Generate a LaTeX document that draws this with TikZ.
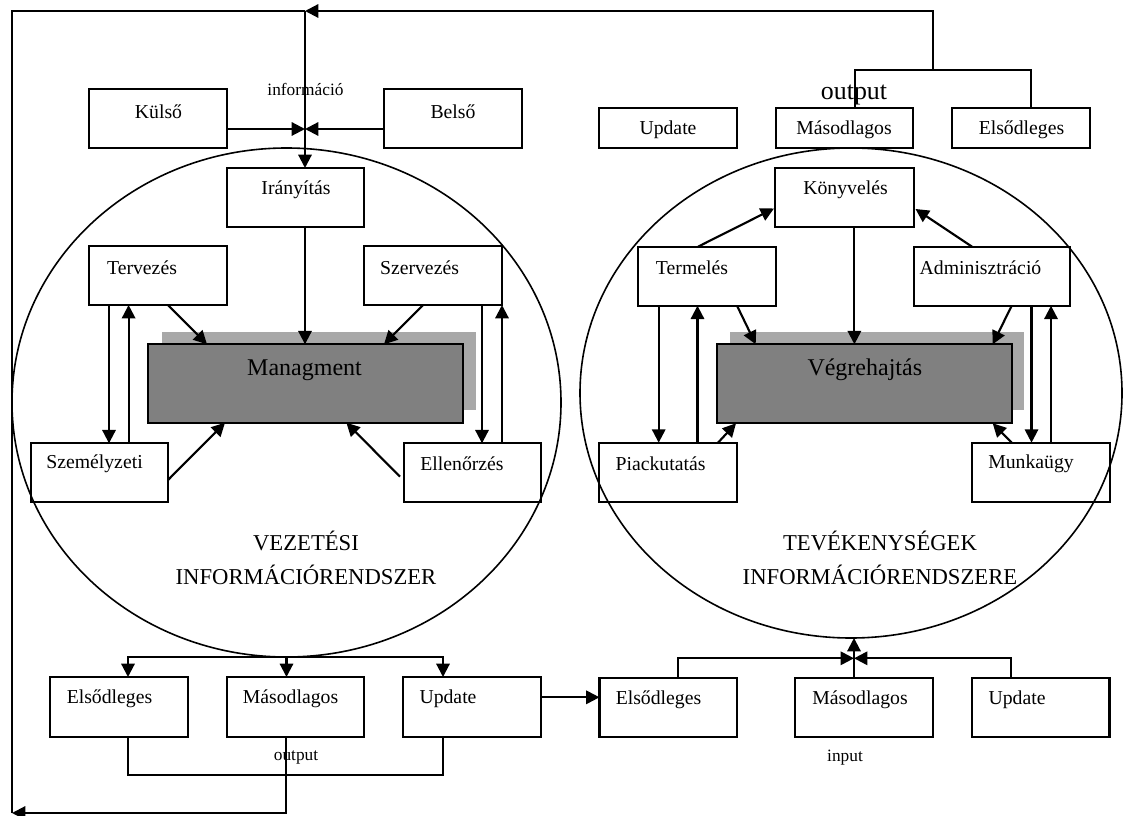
\documentclass[tikz,border=0pt]{standalone}
\usepackage{fontspec}
\setmainfont{Liberation Serif}
\usetikzlibrary{arrows.meta,fit,calc,shapes.geometric}
\definecolor{maingray}{RGB}{128,128,128}
\definecolor{shadgray}{RGB}{168,168,168}
\begin{document}
\begin{tikzpicture}[x=0.75pt,y=-0.75pt,
  bx/.style={draw, line width=1.6pt, inner sep=0pt, outer sep=0pt},
  mainbx/.style={draw, line width=1.6pt, inner sep=0pt, outer sep=0pt, fill=maingray},
  shad/.style={fill=shadgray, inner sep=0pt, outer sep=0pt},
  ell/.style={draw, ellipse, line width=1.2pt, inner sep=0pt, outer sep=0pt},
  txt/.style={font=\fontsize{14.8}{17}\selectfont, inner sep=0pt},
  bigtxt/.style={font=\fontsize{18}{21}\selectfont, inner sep=0pt},
  titletxt/.style={font=\fontsize{17}{25}\selectfont, inner sep=0pt, align=center},
  smalltxt/.style={font=\fontsize{13}{15}\selectfont, inner sep=0pt},
  ln/.style={line width=1.6pt},
  arr/.style={line width=1.6pt, -{Triangle[length=10pt,width=10pt]}}]
\useasboundingbox (0,0) rectangle (1123,816);

% ellipses
\node[ell, minimum width=411.75pt, minimum height=381.75pt] (lell) at (286.5,402.5) {};
\node[ell, minimum width=406.5pt, minimum height=367.5pt] (rell) at (851,393) {};

% ---------- left system ----------
\node[bx, fit={(89,89)(227,148)}] (kulso) {};
\node[txt] (kulsoT) at (158.5,111.6) {Külső};
\node[bx, fit={(384,89)(522,148)}] (belso) {};
\node[txt] (belsoT) at (453,112) {Belső};
\node[smalltxt] (infoT) at (305.5,89) {információ};
\node[bx, fit={(227,168)(364,227)}] (iran) {};
\node[txt] (iranT) at (296,189.3) {Irányítás};
\node[bx, fit={(88.6,246)(226.8,305)}] (terv) {};
\node[txt] (tervT) at (142,268) {Tervezés};
\node[bx, fit={(363.6,246)(501.8,305)}] (szerv) {};
\node[txt] (szervT) at (419.5,268) {Szervezés};
\node[shad, fit={(162,331.7)(476,410)}] (mgmtS) {};
\node[mainbx, fit={(148,344.3)(463,422.7)}] (mgmt) {};
\node[bigtxt] (mgmtT) at (304.5,370) {Managment};
\node[bx, fit={(31,443.3)(168,502)}] (szem) {};
\node[txt] (szemT) at (94.5,463.3) {Személyzeti};
\node[bx, fit={(403.6,443.3)(541,502)}] (ell) {};
\node[txt] (ellT) at (462,463.3) {Ellenőrzés};
\node[titletxt] (vezT) at (306,558) {VEZETÉSI\\INFORMÁCIÓRENDSZER};

% ---------- right system ----------
\node[bx, fit={(775.4,168.3)(913.7,226.7)}] (konyv) {};
\node[txt] (konyvT) at (845.5,189.3) {Könyvelés};
\node[bx, fit={(638,246.7)(776,305.7)}] (term) {};
\node[txt] (termT) at (692,267.3) {Termelés};
\node[bx, fit={(913.7,246.7)(1070,305.7)}] (admin) {};
\node[txt] (adminT) at (980.5,267.3) {Adminisztráció};
\node[shad, fit={(730,331.7)(1024,410)}] (vegS) {};
\node[mainbx, fit={(717,344.3)(1011.7,423.3)}] (veg) {};
\node[bigtxt] (vegT) at (864.8,370) {Végrehajtás};
\node[bx, fit={(598.8,442.7)(737,502)}] (piac) {};
\node[txt] (piacT) at (660.5,463.3) {Piackutatás};
\node[bx, fit={(971.8,442.7)(1110,502)}] (munka) {};
\node[txt] (munkaT) at (1031,463.3) {Munkaügy};
\node[titletxt] (tevT) at (880,558) {TEVÉKENYSÉGEK\\INFORMÁCIÓRENDSZERE};

% ---------- top right outputs ----------
\node[bx, fit={(599,108.3)(737,148.3)}] (updT) {};
\node[txt] (updTT) at (668,130) {Update};
\node[bx, fit={(775.6,108.3)(913.4,148.3)}] (masT) {};
\node[txt] (masTT) at (844,130) {Másodlagos};
\node[bx, fit={(952,108.3)(1090,148.3)}] (elsT) {};
\node[txt] (elsTT) at (1021.5,130) {Elsődleges};
\node[font=\fontsize{19.4}{22}\selectfont, inner sep=0pt] (outT) at (854,95) {output};

% ---------- bottom boxes ----------
\node[bx, fit={(50,677)(188,737)}] (elsL) {};
\node[txt] (elsLT) at (109.5,699) {Elsődleges};
\node[bx, fit={(227,677)(364,737)}] (masL) {};
\node[txt] (masLT) at (290.5,699) {Másodlagos};
\node[bx, fit={(403,677)(541,737)}] (updL) {};
\node[txt] (updLT) at (448,699) {Update};
\node[smalltxt] (outL) at (296,757) {output};

\node[bx, fit={(599.5,677.7)(737,736.7)}] (elsR) {};
\node[txt] (elsRT) at (658.5,699.3) {Elsődleges};
\node[bx, fit={(795,677.7)(933,736.7)}] (masR) {};
\node[txt] (masRT) at (860,699.3) {Másodlagos};
\node[bx, fit={(972,677.7)(1109.5,736.7)}] (updR) {};
\node[txt] (updRT) at (1017,699.3) {Update};
\node[smalltxt] (inR) at (845,757.3) {input};

% ---------- coordinates ----------
\coordinate (topjoin) at (305,11);
\coordinate (kin) at (305,129);
\coordinate (corner) at (12,813);
\coordinate (tr) at (933,70);
\coordinate (trR) at (1031,70);
\coordinate (lloop) at (286,775);
\coordinate (rbus) at (854,658.3);

% ---------- connectors: feedback loop ----------
\draw[arr] (masL.south -| 286,0) |- (corner);
\draw[ln] (corner) |- (topjoin);
\draw[ln] (masT.north -| 854.6,0) |- (trR) -- (elsT.north -| trR);
\draw[arr] (tr) |- (topjoin);
\draw[arr] (topjoin) -- (iran.north -| topjoin);
\draw[arr] (kulso.east |- kin) -- (kin);
\draw[arr] (belso.west |- kin) -- (kin);

% ---------- left internal ----------
\draw[arr] (iran.south -| topjoin) -- (mgmt.north -| topjoin);
\draw[arr] (terv.south -| 168,0) -- (mgmt.north -| 207,0);
\draw[arr] (szerv.south -| 423,0) -- (mgmt.north -| 384,0);
\draw[arr] (terv.south -| 109,0) -- (szem.north -| 109,0);
\draw[arr] (szem.north -| 128.6,0) -- (terv.south -| 128.6,0);
\draw[arr] (szerv.south -| 482,0) -- (ell.north -| 482,0);
\draw[arr] (ell.north -| 502,0) -- (szerv.south -| 502,0);
\draw[arr] (szem.east |- 0,480) -- (mgmt.south -| 225,0);
\draw[arr] (400,476.7) -- (mgmt.south -| 346.4,0);

% ---------- right internal ----------
\draw[arr] (term.north -| 698,0) -- (774,208.5);
\draw[arr] (admin.north -| 972,0) -- (915.5,209);
\draw[arr] (konyv.south -| 854.4,0) -- (veg.north -| 854.4,0);
\draw[arr] (term.south -| 737,0) -- (veg.north -| 755.7,0);
\draw[arr] (admin.south -| 1011.7,0) -- (veg.north -| 992.7,0);
\draw[arr] (term.south -| 658.7,0) -- (piac.north -| 658.7,0);
\draw[arr] (piac.north -| 697.5,0) -- (term.south -| 697.5,0);
\draw[arr] (admin.south -| 1031.5,0) -- (munka.north -| 1031.5,0);
\draw[arr] (munka.north -| 1051,0) -- (admin.south -| 1051,0);
\draw[arr] (piac.north -| 718,0) -- (veg.south -| 736,0);
\draw[arr] (munka.north -| 1011.7,0) -- (veg.south -| 992.7,0);

% ---------- bottom connectors ----------
\draw[arr] (lell.south) -- (masL.north -| lell.south);
\draw[arr] (lell.south) -| (elsL.north -| 128,0);
\draw[arr] (lell.south) -| (updL.north -| 443,0);
\draw[ln] (elsL.south -| 128,0) |- (lloop) -| (updL.south -| 443,0);
\draw[arr] (updL.east |- 0,697.3) -- (elsR.west |- 0,697.3);
\draw[arr] (elsR.north -| 678,0) |- (rbus);
\draw[arr] (updR.north -| 1011,0) |- (rbus);
\draw[arr] (masR.north -| rbus) -- (rell.south -| rbus);
\end{tikzpicture}
\end{document}
